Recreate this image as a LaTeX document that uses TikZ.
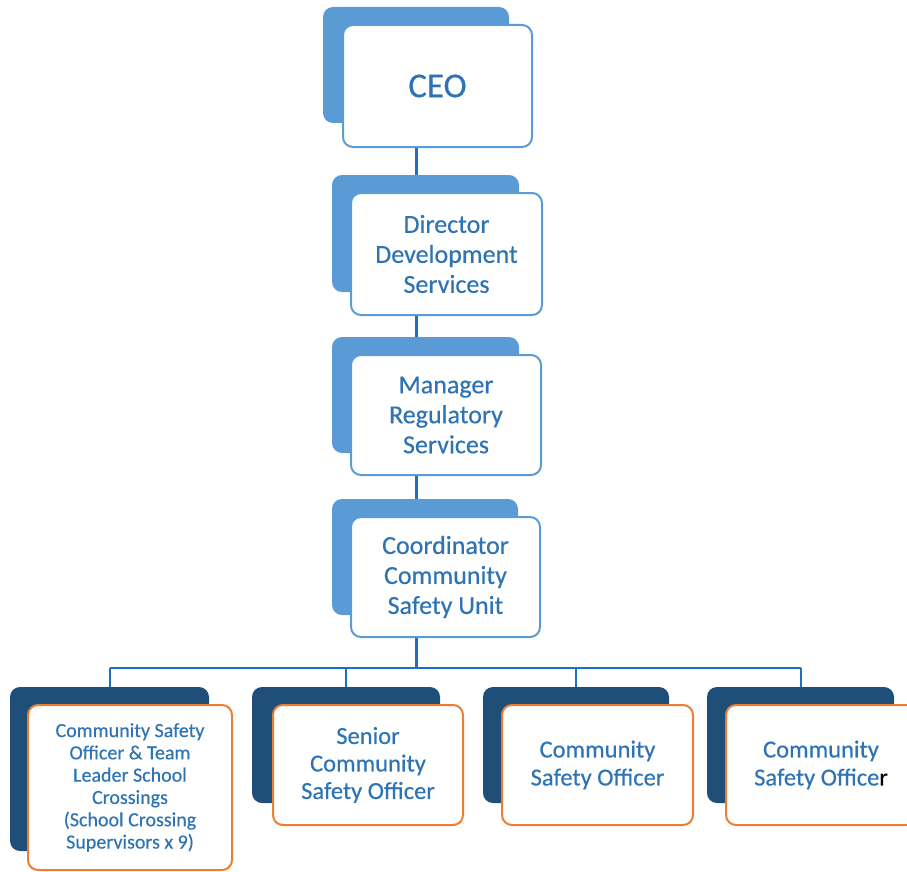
\documentclass[tikz,border=0pt]{standalone}
\usepackage{fontspec}
\setmainfont[FakeBold=0.35]{Carlito}
\definecolor{lightback}{HTML}{5B9BD5}
\definecolor{darkback}{HTML}{1F4E79}
\definecolor{txtblue}{HTML}{2E74B5}
\definecolor{connblue}{HTML}{1F70C1}
\definecolor{orangeline}{HTML}{ED7D31}
\begin{document}
\begin{tikzpicture}[x=1pt,y=-1pt,
  backlight/.style={rectangle,rounded corners=10pt,fill=lightback,inner sep=0pt},
  backdark/.style={rectangle,rounded corners=10pt,fill=darkback,inner sep=0pt},
  frontblue/.style={rectangle,rounded corners=10pt,draw=lightback,line width=2pt,fill=white,inner sep=0pt,align=center,text=txtblue},
  frontorange/.style={rectangle,rounded corners=10pt,draw=orangeline,line width=2pt,fill=white,inner sep=0pt,align=center,text=txtblue},
  conn/.style={draw=connblue,line width=2pt},
  spineline/.style={draw=connblue,line width=3pt}]
\path[use as bounding box] (0,0) rectangle (907,872);
\clip (0,0) rectangle (907,872);
% top chain
\node[backlight,minimum width=186pt,minimum height=116pt] (ceoback) at (416,65) {};
\node[frontblue,minimum width=189pt,minimum height=122pt,font=\fontsize{35}{40}\selectfont] (ceo) at (437.5,86) {CEO};
\node[backlight,minimum width=187pt,minimum height=117pt] (dirback) at (425.5,233.5) {};
\node[frontblue,minimum width=191pt,minimum height=122pt,font=\fontsize{26}{30}\selectfont] (dir) at (446.5,254) {Director\\Development\\Services};
\node[backlight,minimum width=187pt,minimum height=116pt] (mgrback) at (425.5,395) {};
\node[frontblue,minimum width=190pt,minimum height=120pt,font=\fontsize{26}{30}\selectfont] (mgr) at (446,415) {Manager\\Regulatory\\Services};
\node[backlight,minimum width=186pt,minimum height=116pt] (coordback) at (425,557) {};
\node[frontblue,minimum width=189pt,minimum height=120pt,font=\fontsize{26}{30}\selectfont] (coord) at (445.5,577) {Coordinator\\Community\\Safety Unit};
% bottom row
\node[backdark,minimum width=199pt,minimum height=164pt] (b1back) at (109.5,769) {};
\node[frontorange,minimum width=204pt,minimum height=165pt,font=\fontsize{20}{22.3}\selectfont] (b1) at (130,787.5) {Community Safety\\Officer \& Team\\Leader School\\Crossings\\(School Crossing\\Supervisors x 9)};
\node[backdark,minimum width=188pt,minimum height=116pt] (b2back) at (346,745) {};
\node[frontorange,minimum width=190pt,minimum height=120pt,font=\fontsize{24.5}{27.5}\selectfont] (b2) at (368,765) {Senior\\Community\\Safety Officer};
\node[backdark,minimum width=186pt,minimum height=116pt] (b3back) at (576,745) {};
\node[frontorange,minimum width=191pt,minimum height=120pt,font=\fontsize{24.5}{28}\selectfont] (b3) at (597.5,765) {Community\\Safety Officer};
\node[backdark,minimum width=187pt,minimum height=116pt] (b4back) at (800.5,745) {};
\node[frontorange,minimum width=190pt,minimum height=120pt,font=\fontsize{24.5}{28}\selectfont] (b4) at (821,765) {Community\\Safety Office\textcolor{black}{r}};
% connectors
\coordinate (spine) at (ceoback.center);
\coordinate (bus) at (0,668);
\draw[spineline] (ceo.south -| spine) -- (dirback.north -| spine);
\draw[spineline] (dir.south -| spine) -- (mgrback.north -| spine);
\draw[spineline] (mgr.south -| spine) -- (coordback.north -| spine);
\draw[spineline] (coord.south -| spine) -- (bus -| spine);
\draw[conn] (bus -| b1back) -- (bus -| b4back);
\draw[conn] (bus -| b1back) -- (b1back.north);
\draw[conn] (bus -| b2back) -- (b2back.north);
\draw[conn] (bus -| b3back) -- (b3back.north);
\draw[conn] (bus -| b4back) -- (b4back.north);
\end{tikzpicture}
\end{document}
